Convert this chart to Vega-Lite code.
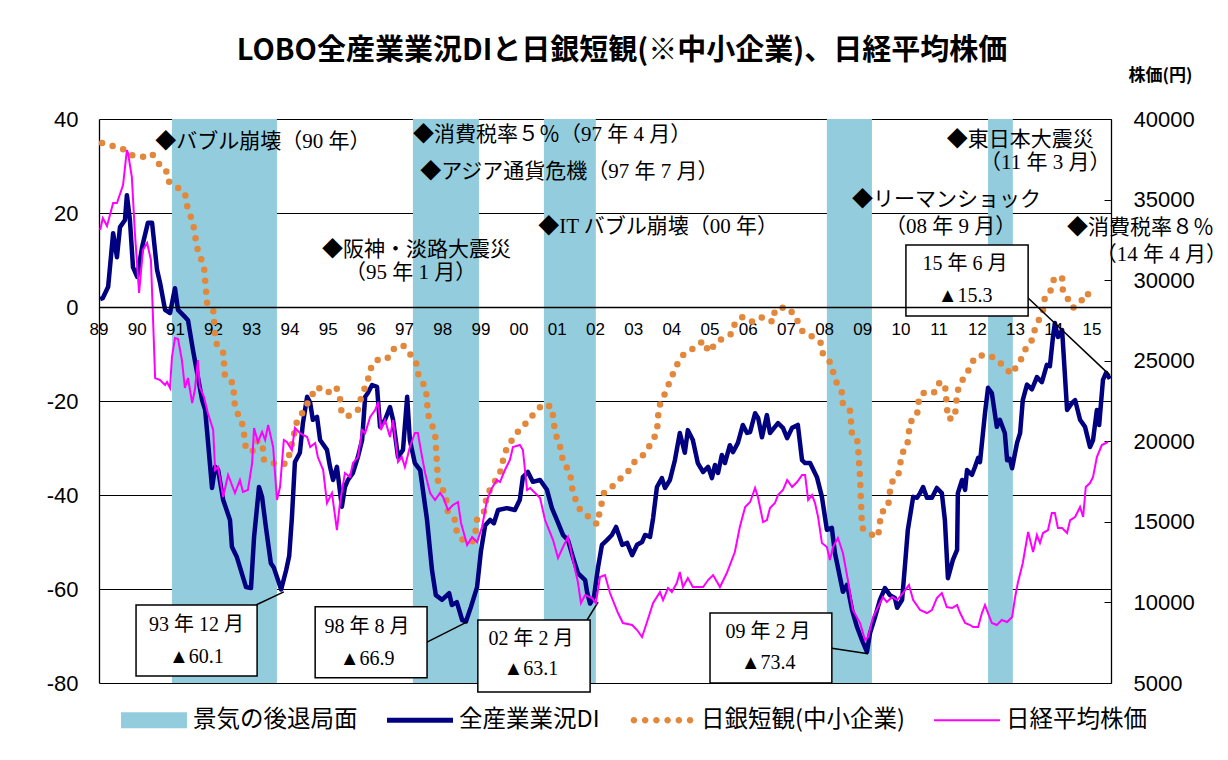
{
"$schema": "https://vega.github.io/schema/vega-lite/v6.json",
"width": 1012, "height": 564,
"padding": {"left": 99, "top": 119, "right": 117, "bottom": 77},
"autosize": {"type": "none"},
"background": "white",
"title": {"text": "LOBO全産業業況DIと日銀短観(※中小企業)、日経平均株価", "font": "Noto Sans CJK JP", "fontSize": 29, "fontWeight": "bold", "color": "#000", "anchor": "middle", "frame": "group", "dx": 17, "offset": 0},
"config": {"view": {"stroke": null}, "axis": {"labelFont": "Liberation Sans", "labelColor": "#000"}},
"datasets": {
"years": [{"year":1989,"label":"89"},{"year":1990,"label":"90"},{"year":1991,"label":"91"},{"year":1992,"label":"92"},{"year":1993,"label":"93"},{"year":1994,"label":"94"},{"year":1995,"label":"95"},{"year":1996,"label":"96"},{"year":1997,"label":"97"},{"year":1998,"label":"98"},{"year":1999,"label":"99"},{"year":2000,"label":"00"},{"year":2001,"label":"01"},{"year":2002,"label":"02"},{"year":2003,"label":"03"},{"year":2004,"label":"04"},{"year":2005,"label":"05"},{"year":2006,"label":"06"},{"year":2007,"label":"07"},{"year":2008,"label":"08"},{"year":2009,"label":"09"},{"year":2010,"label":"10"},{"year":2011,"label":"11"},{"year":2012,"label":"12"},{"year":2013,"label":"13"},{"year":2014,"label":"14"},{"year":2015,"label":"15"}],
"bands": [{"start":1990.91,"end":1993.66},{"start":1997.22,"end":1998.95},{"start":2000.65,"end":2002.01},{"start":2008.06,"end":2009.24},{"start":2012.28,"end":2012.93}],
"di": [
{"t":1989.03,"v":1.7},{"t":1989.10,"v":1.9},{"t":1989.24,"v":4.3},{"t":1989.37,"v":15.7},{"t":1989.47,"v":10.6},{"t":1989.55,"v":17.0},{"t":1989.68,"v":18.5},{"t":1989.73,"v":23.8},{"t":1989.81,"v":18.5},{"t":1989.89,"v":8.5},{"t":1990.00,"v":6.4},{"t":1990.13,"v":12.8},{"t":1990.28,"v":17.9},{"t":1990.39,"v":17.9},{"t":1990.52,"v":7.9},{"t":1990.60,"v":5.1},{"t":1990.73,"v":-0.6},{"t":1990.86,"v":-1.3},{"t":1990.99,"v":4.0},{"t":1991.07,"v":-0.6},{"t":1991.25,"v":-2.1},{"t":1991.33,"v":-2.8},{"t":1991.46,"v":-9.1},{"t":1991.57,"v":-14.0},{"t":1991.70,"v":-19.8},{"t":1991.78,"v":-21.9},{"t":1991.85,"v":-28.3},{"t":1991.96,"v":-38.5},{"t":1992.04,"v":-34.0},{"t":1992.12,"v":-34.7},{"t":1992.25,"v":-41.0},{"t":1992.43,"v":-45.3},{"t":1992.48,"v":-51.0},{"t":1992.61,"v":-53.2},{"t":1992.85,"v":-59.6},{"t":1992.98,"v":-59.8},{"t":1993.06,"v":-49.0},{"t":1993.19,"v":-38.3},{"t":1993.27,"v":-40.4},{"t":1993.37,"v":-46.8},{"t":1993.50,"v":-54.5},{"t":1993.58,"v":-55.5},{"t":1993.77,"v":-60.1},{"t":1993.90,"v":-56.0},{"t":1993.98,"v":-53.0},{"t":1994.05,"v":-45.0},{"t":1994.13,"v":-33.0},{"t":1994.26,"v":-31.0},{"t":1994.34,"v":-24.7},{"t":1994.45,"v":-19.1},{"t":1994.53,"v":-20.4},{"t":1994.60,"v":-24.0},{"t":1994.71,"v":-23.4},{"t":1994.79,"v":-28.3},{"t":1994.97,"v":-30.4},{"t":1995.05,"v":-34.0},{"t":1995.13,"v":-36.8},{"t":1995.23,"v":-34.0},{"t":1995.36,"v":-42.5},{"t":1995.44,"v":-38.3},{"t":1995.52,"v":-36.8},{"t":1995.65,"v":-35.3},{"t":1995.78,"v":-31.9},{"t":1995.89,"v":-28.3},{"t":1995.97,"v":-19.1},{"t":1996.04,"v":-18.3},{"t":1996.15,"v":-16.6},{"t":1996.28,"v":-17.0},{"t":1996.36,"v":-25.5},{"t":1996.49,"v":-24.0},{"t":1996.62,"v":-21.3},{"t":1996.70,"v":-24.0},{"t":1996.83,"v":-31.9},{"t":1996.96,"v":-30.4},{"t":1997.07,"v":-19.1},{"t":1997.14,"v":-28.3},{"t":1997.27,"v":-33.2},{"t":1997.41,"v":-34.7},{"t":1997.59,"v":-45.3},{"t":1997.72,"v":-56.0},{"t":1997.82,"v":-61.3},{"t":1997.98,"v":-62.3},{"t":1998.17,"v":-60.9},{"t":1998.24,"v":-63.4},{"t":1998.37,"v":-62.8},{"t":1998.51,"v":-66.6},{"t":1998.61,"v":-66.9},{"t":1998.74,"v":-63.8},{"t":1998.90,"v":-59.6},{"t":1999.00,"v":-52.0},{"t":1999.11,"v":-46.5},{"t":1999.24,"v":-45.3},{"t":1999.34,"v":-46.0},{"t":1999.45,"v":-43.2},{"t":1999.68,"v":-42.8},{"t":1999.89,"v":-43.2},{"t":2000.02,"v":-41.0},{"t":2000.10,"v":-36.2},{"t":2000.23,"v":-35.1},{"t":2000.36,"v":-37.2},{"t":2000.55,"v":-36.8},{"t":2000.73,"v":-38.9},{"t":2000.86,"v":-42.8},{"t":2000.99,"v":-45.3},{"t":2001.15,"v":-48.5},{"t":2001.28,"v":-49.6},{"t":2001.41,"v":-53.2},{"t":2001.54,"v":-56.6},{"t":2001.73,"v":-58.1},{"t":2001.78,"v":-60.6},{"t":2001.86,"v":-63.1},{"t":2001.96,"v":-61.7},{"t":2002.07,"v":-55.3},{"t":2002.17,"v":-50.6},{"t":2002.30,"v":-49.6},{"t":2002.43,"v":-48.5},{"t":2002.54,"v":-46.8},{"t":2002.70,"v":-50.6},{"t":2002.83,"v":-50.2},{"t":2002.96,"v":-52.8},{"t":2003.09,"v":-50.6},{"t":2003.22,"v":-50.0},{"t":2003.30,"v":-48.5},{"t":2003.43,"v":-48.9},{"t":2003.51,"v":-44.9},{"t":2003.61,"v":-38.3},{"t":2003.74,"v":-36.4},{"t":2003.82,"v":-38.5},{"t":2003.95,"v":-36.8},{"t":2004.08,"v":-32.6},{"t":2004.21,"v":-26.8},{"t":2004.34,"v":-31.0},{"t":2004.42,"v":-26.2},{"t":2004.55,"v":-28.3},{"t":2004.68,"v":-33.2},{"t":2004.82,"v":-35.1},{"t":2004.95,"v":-34.0},{"t":2005.05,"v":-36.4},{"t":2005.13,"v":-33.6},{"t":2005.21,"v":-35.3},{"t":2005.31,"v":-31.5},{"t":2005.39,"v":-33.2},{"t":2005.52,"v":-29.4},{"t":2005.60,"v":-30.9},{"t":2005.73,"v":-28.9},{"t":2005.86,"v":-25.1},{"t":2005.97,"v":-26.8},{"t":2006.05,"v":-26.6},{"t":2006.18,"v":-22.6},{"t":2006.26,"v":-23.6},{"t":2006.36,"v":-27.7},{"t":2006.49,"v":-23.0},{"t":2006.57,"v":-26.8},{"t":2006.70,"v":-25.5},{"t":2006.78,"v":-24.7},{"t":2006.91,"v":-25.7},{"t":2007.02,"v":-27.9},{"t":2007.15,"v":-25.7},{"t":2007.30,"v":-25.1},{"t":2007.41,"v":-32.6},{"t":2007.49,"v":-33.2},{"t":2007.62,"v":-33.2},{"t":2007.80,"v":-36.2},{"t":2007.93,"v":-40.4},{"t":2008.06,"v":-47.4},{"t":2008.19,"v":-47.0},{"t":2008.27,"v":-52.3},{"t":2008.40,"v":-57.4},{"t":2008.48,"v":-60.6},{"t":2008.59,"v":-59.1},{"t":2008.72,"v":-64.5},{"t":2008.85,"v":-68.1},{"t":2008.98,"v":-70.9},{"t":2009.11,"v":-73.4},{"t":2009.19,"v":-69.4},{"t":2009.32,"v":-66.0},{"t":2009.45,"v":-62.3},{"t":2009.58,"v":-59.8},{"t":2009.71,"v":-61.3},{"t":2009.84,"v":-61.9},{"t":2009.90,"v":-64.0},{"t":2010.03,"v":-62.3},{"t":2010.11,"v":-54.5},{"t":2010.18,"v":-47.4},{"t":2010.32,"v":-40.4},{"t":2010.42,"v":-40.6},{"t":2010.50,"v":-39.6},{"t":2010.58,"v":-38.3},{"t":2010.68,"v":-40.6},{"t":2010.81,"v":-40.6},{"t":2010.94,"v":-38.5},{"t":2011.07,"v":-39.6},{"t":2011.15,"v":-45.3},{"t":2011.23,"v":-57.7},{"t":2011.36,"v":-53.8},{"t":2011.47,"v":-51.7},{"t":2011.49,"v":-39.6},{"t":2011.60,"v":-36.8},{"t":2011.68,"v":-38.9},{"t":2011.73,"v":-34.7},{"t":2011.86,"v":-35.7},{"t":2011.94,"v":-34.0},{"t":2012.02,"v":-32.1},{"t":2012.07,"v":-33.0},{"t":2012.20,"v":-22.6},{"t":2012.28,"v":-17.2},{"t":2012.38,"v":-18.3},{"t":2012.51,"v":-25.5},{"t":2012.59,"v":-24.0},{"t":2012.72,"v":-26.8},{"t":2012.78,"v":-32.6},{"t":2012.85,"v":-32.3},{"t":2012.91,"v":-34.3},{"t":2013.04,"v":-28.9},{"t":2013.12,"v":-26.8},{"t":2013.19,"v":-19.8},{"t":2013.30,"v":-16.5},{"t":2013.43,"v":-17.5},{"t":2013.56,"v":-14.9},{"t":2013.69,"v":-16.0},{"t":2013.82,"v":-12.3},{"t":2013.90,"v":-12.6},{"t":2013.98,"v":-6.4},{"t":2014.03,"v":-3.4},{"t":2014.11,"v":-6.4},{"t":2014.22,"v":-4.9},{"t":2014.35,"v":-21.9},{"t":2014.48,"v":-20.4},{"t":2014.56,"v":-19.8},{"t":2014.69,"v":-24.0},{"t":2014.82,"v":-25.5},{"t":2014.95,"v":-29.8},{"t":2015.03,"v":-28.3},{"t":2015.13,"v":-21.9},{"t":2015.19,"v":-25.1},{"t":2015.29,"v":-15.5},{"t":2015.37,"v":-14.0},{"t":2015.47,"v":-15.3}],
"tankan": [
{"t":1989.08,"v":34.9},{"t":1989.63,"v":33.6},{"t":1989.86,"v":32.3},{"t":1990.13,"v":31.9},{"t":1990.39,"v":32.6},{"t":1990.54,"v":30.6},{"t":1990.75,"v":29.4},{"t":1990.81,"v":26.8},{"t":1991.04,"v":25.5},{"t":1991.25,"v":24.3},{"t":1991.30,"v":21.7},{"t":1991.46,"v":17.9},{"t":1991.57,"v":12.6},{"t":1991.75,"v":8.5},{"t":1991.83,"v":0.9},{"t":1991.99,"v":-0.4},{"t":1992.04,"v":-6.0},{"t":1992.09,"v":-8.1},{"t":1992.25,"v":-9.6},{"t":1992.30,"v":-14.9},{"t":1992.51,"v":-16.2},{"t":1992.56,"v":-21.3},{"t":1992.77,"v":-25.3},{"t":1992.85,"v":-30.4},{"t":1993.03,"v":-30.6},{"t":1993.16,"v":-28.3},{"t":1993.29,"v":-30.0},{"t":1993.32,"v":-32.6},{"t":1993.56,"v":-33.2},{"t":1993.74,"v":-33.6},{"t":1993.92,"v":-33.2},{"t":1994.00,"v":-30.9},{"t":1994.18,"v":-24.5},{"t":1994.32,"v":-22.6},{"t":1994.58,"v":-18.7},{"t":1994.71,"v":-17.0},{"t":1994.97,"v":-18.3},{"t":1995.21,"v":-17.0},{"t":1995.31,"v":-19.4},{"t":1995.34,"v":-21.9},{"t":1995.49,"v":-23.4},{"t":1995.78,"v":-21.9},{"t":1995.86,"v":-19.4},{"t":1996.04,"v":-15.5},{"t":1996.12,"v":-13.0},{"t":1996.25,"v":-11.3},{"t":1996.54,"v":-11.1},{"t":1996.67,"v":-9.1},{"t":1996.96,"v":-8.1},{"t":1997.12,"v":-9.8},{"t":1997.30,"v":-11.5},{"t":1997.33,"v":-13.8},{"t":1997.56,"v":-17.4},{"t":1997.62,"v":-23.0},{"t":1997.80,"v":-26.8},{"t":1997.88,"v":-37.4},{"t":1998.09,"v":-40.0},{"t":1998.11,"v":-43.2},{"t":1998.32,"v":-45.3},{"t":1998.37,"v":-47.9},{"t":1998.53,"v":-49.6},{"t":1998.77,"v":-50.0},{"t":1998.87,"v":-47.4},{"t":1998.90,"v":-45.1},{"t":1999.08,"v":-43.6},{"t":1999.16,"v":-40.0},{"t":1999.50,"v":-35.3},{"t":1999.63,"v":-30.9},{"t":1999.89,"v":-27.2},{"t":2000.10,"v":-25.5},{"t":2000.47,"v":-21.9},{"t":2000.65,"v":-20.6},{"t":2000.86,"v":-21.3},{"t":2000.94,"v":-26.6},{"t":2001.10,"v":-30.4},{"t":2001.15,"v":-33.0},{"t":2001.33,"v":-35.1},{"t":2001.41,"v":-39.6},{"t":2001.60,"v":-43.2},{"t":2001.86,"v":-44.9},{"t":2002.04,"v":-46.2},{"t":2002.17,"v":-41.5},{"t":2002.22,"v":-39.6},{"t":2002.43,"v":-38.3},{"t":2002.67,"v":-36.4},{"t":2002.85,"v":-35.1},{"t":2002.98,"v":-33.2},{"t":2003.19,"v":-32.1},{"t":2003.35,"v":-30.4},{"t":2003.48,"v":-28.7},{"t":2003.61,"v":-26.6},{"t":2003.66,"v":-21.3},{"t":2003.77,"v":-19.4},{"t":2004.08,"v":-13.2},{"t":2004.24,"v":-10.6},{"t":2004.40,"v":-9.6},{"t":2004.63,"v":-8.5},{"t":2004.82,"v":-7.2},{"t":2004.97,"v":-9.6},{"t":2005.18,"v":-7.4},{"t":2005.60,"v":-5.5},{"t":2005.65,"v":-3.4},{"t":2005.86,"v":-2.1},{"t":2006.13,"v":-3.2},{"t":2006.39,"v":-2.1},{"t":2006.65,"v":-3.2},{"t":2006.70,"v":-0.6},{"t":2006.99,"v":0.0},{"t":2007.20,"v":-1.5},{"t":2007.43,"v":-5.3},{"t":2007.70,"v":-6.4},{"t":2007.91,"v":-7.7},{"t":2007.96,"v":-10.2},{"t":2008.14,"v":-11.7},{"t":2008.32,"v":-16.2},{"t":2008.46,"v":-18.3},{"t":2008.48,"v":-20.9},{"t":2008.67,"v":-22.1},{"t":2008.72,"v":-27.4},{"t":2008.87,"v":-28.7},{"t":2008.93,"v":-36.6},{"t":2008.98,"v":-47.0},{"t":2009.19,"v":-48.3},{"t":2009.40,"v":-48.9},{"t":2009.48,"v":-43.8},{"t":2009.66,"v":-42.6},{"t":2009.74,"v":-37.4},{"t":2009.92,"v":-36.2},{"t":2010.03,"v":-31.1},{"t":2010.16,"v":-29.8},{"t":2010.24,"v":-24.5},{"t":2010.42,"v":-23.2},{"t":2010.45,"v":-20.4},{"t":2010.55,"v":-18.3},{"t":2010.86,"v":-18.3},{"t":2010.97,"v":-16.2},{"t":2011.15,"v":-16.2},{"t":2011.23,"v":-23.8},{"t":2011.41,"v":-23.6},{"t":2011.47,"v":-18.3},{"t":2011.55,"v":-16.2},{"t":2011.73,"v":-14.3},{"t":2011.83,"v":-12.1},{"t":2011.99,"v":-10.4},{"t":2012.28,"v":-10.2},{"t":2012.54,"v":-11.3},{"t":2012.72,"v":-13.0},{"t":2012.91,"v":-14.3},{"t":2013.06,"v":-12.1},{"t":2013.19,"v":-10.6},{"t":2013.30,"v":-8.1},{"t":2013.46,"v":-6.8},{"t":2013.51,"v":-4.5},{"t":2013.61,"v":-2.8},{"t":2013.74,"v":-0.2},{"t":2013.77,"v":2.3},{"t":2013.95,"v":3.8},{"t":2014.01,"v":6.2},{"t":2014.22,"v":6.2},{"t":2014.24,"v":3.4},{"t":2014.37,"v":1.7},{"t":2014.50,"v":-0.2},{"t":2014.71,"v":1.1},{"t":2014.84,"v":3.0},{"t":2015.11,"v":1.7}],
"nikkei": [
{"t":1989.03,"p":33111},{"t":1989.10,"p":33856},{"t":1989.21,"p":33360},{"t":1989.37,"p":34787},{"t":1989.47,"p":34787},{"t":1989.63,"p":35904},{"t":1989.73,"p":38076},{"t":1989.76,"p":37890},{"t":1989.86,"p":36400},{"t":1989.94,"p":32925},{"t":1990.05,"p":29201},{"t":1990.15,"p":31870},{"t":1990.26,"p":32305},{"t":1990.36,"p":31250},{"t":1990.47,"p":23926},{"t":1990.60,"p":23802},{"t":1990.73,"p":23492},{"t":1990.78,"p":23678},{"t":1990.86,"p":23306},{"t":1990.91,"p":25230},{"t":1990.99,"p":26409},{"t":1991.07,"p":26347},{"t":1991.17,"p":25044},{"t":1991.25,"p":23306},{"t":1991.33,"p":23926},{"t":1991.44,"p":22375},{"t":1991.51,"p":23182},{"t":1991.59,"p":25044},{"t":1991.64,"p":23368},{"t":1991.75,"p":22747},{"t":1991.85,"p":21754},{"t":1991.99,"p":20699},{"t":1992.04,"p":18217},{"t":1992.12,"p":18403},{"t":1992.25,"p":16541},{"t":1992.38,"p":17907},{"t":1992.56,"p":16790},{"t":1992.69,"p":17596},{"t":1992.77,"p":16852},{"t":1992.90,"p":16976},{"t":1993.01,"p":18651},{"t":1993.06,"p":20824},{"t":1993.16,"p":19955},{"t":1993.27,"p":20576},{"t":1993.35,"p":20079},{"t":1993.43,"p":21010},{"t":1993.56,"p":19644},{"t":1993.66,"p":16355},{"t":1993.74,"p":17162},{"t":1993.84,"p":20079},{"t":1993.92,"p":19955},{"t":1994.05,"p":19458},{"t":1994.13,"p":20824},{"t":1994.26,"p":20513},{"t":1994.45,"p":20265},{"t":1994.53,"p":19644},{"t":1994.66,"p":19893},{"t":1994.73,"p":19024},{"t":1994.87,"p":18217},{"t":1994.97,"p":16169},{"t":1995.10,"p":16790},{"t":1995.23,"p":14493},{"t":1995.31,"p":16169},{"t":1995.44,"p":18031},{"t":1995.57,"p":17782},{"t":1995.65,"p":18651},{"t":1995.78,"p":19024},{"t":1995.89,"p":20699},{"t":1995.97,"p":20513},{"t":1996.10,"p":21506},{"t":1996.23,"p":21941},{"t":1996.31,"p":22437},{"t":1996.38,"p":20699},{"t":1996.49,"p":21320},{"t":1996.62,"p":20265},{"t":1996.70,"p":21320},{"t":1996.83,"p":18713},{"t":1996.93,"p":19024},{"t":1997.01,"p":18403},{"t":1997.14,"p":19644},{"t":1997.27,"p":20513},{"t":1997.35,"p":20513},{"t":1997.46,"p":19024},{"t":1997.54,"p":18031},{"t":1997.67,"p":16790},{"t":1997.80,"p":16355},{"t":1997.93,"p":16790},{"t":1998.01,"p":16541},{"t":1998.14,"p":15735},{"t":1998.27,"p":16045},{"t":1998.40,"p":16231},{"t":1998.48,"p":14928},{"t":1998.64,"p":13562},{"t":1998.77,"p":14059},{"t":1998.90,"p":13749},{"t":1999.03,"p":14680},{"t":1999.16,"p":16355},{"t":1999.29,"p":17100},{"t":1999.42,"p":17596},{"t":1999.50,"p":17472},{"t":1999.63,"p":18217},{"t":1999.76,"p":18838},{"t":1999.84,"p":19644},{"t":2000.02,"p":19768},{"t":2000.10,"p":19458},{"t":2000.21,"p":16976},{"t":2000.29,"p":17100},{"t":2000.55,"p":16479},{"t":2000.68,"p":15114},{"t":2000.89,"p":13873},{"t":2001.02,"p":12756},{"t":2001.15,"p":13438},{"t":2001.28,"p":14059},{"t":2001.41,"p":12631},{"t":2001.54,"p":11266},{"t":2001.62,"p":9963},{"t":2001.73,"p":10459},{"t":2001.91,"p":10273},{"t":2002.01,"p":9963},{"t":2002.12,"p":11576},{"t":2002.25,"p":11700},{"t":2002.38,"p":10584},{"t":2002.59,"p":9342},{"t":2002.72,"p":8722},{"t":2002.96,"p":8598},{"t":2003.09,"p":8287},{"t":2003.22,"p":7853},{"t":2003.35,"p":8784},{"t":2003.51,"p":9963},{"t":2003.69,"p":10646},{"t":2003.77,"p":10150},{"t":2003.90,"p":10894},{"t":2004.00,"p":10646},{"t":2004.13,"p":11204},{"t":2004.21,"p":11887},{"t":2004.29,"p":10956},{"t":2004.42,"p":11514},{"t":2004.55,"p":10956},{"t":2004.82,"p":10956},{"t":2004.95,"p":11390},{"t":2005.08,"p":11700},{"t":2005.26,"p":10956},{"t":2005.44,"p":11824},{"t":2005.65,"p":13128},{"t":2005.78,"p":14680},{"t":2005.92,"p":15921},{"t":2006.05,"p":16231},{"t":2006.18,"p":17100},{"t":2006.26,"p":16479},{"t":2006.39,"p":14990},{"t":2006.49,"p":15114},{"t":2006.57,"p":15859},{"t":2006.70,"p":16169},{"t":2006.78,"p":16665},{"t":2006.91,"p":16976},{"t":2007.02,"p":17596},{"t":2007.15,"p":17162},{"t":2007.28,"p":17472},{"t":2007.41,"p":17907},{"t":2007.49,"p":17907},{"t":2007.57,"p":16355},{"t":2007.67,"p":16665},{"t":2007.75,"p":16169},{"t":2007.83,"p":15300},{"t":2007.93,"p":13687},{"t":2008.06,"p":13438},{"t":2008.14,"p":12631},{"t":2008.22,"p":13438},{"t":2008.35,"p":13997},{"t":2008.48,"p":13066},{"t":2008.61,"p":11391},{"t":2008.74,"p":9529},{"t":2008.93,"p":8722},{"t":2009.06,"p":7667},{"t":2009.14,"p":7853},{"t":2009.27,"p":9094},{"t":2009.40,"p":9715},{"t":2009.53,"p":10335},{"t":2009.63,"p":10025},{"t":2009.77,"p":10335},{"t":2009.90,"p":10150},{"t":2010.05,"p":10584},{"t":2010.21,"p":11080},{"t":2010.32,"p":10150},{"t":2010.50,"p":9529},{"t":2010.68,"p":9342},{"t":2010.81,"p":9529},{"t":2010.94,"p":10273},{"t":2011.07,"p":10584},{"t":2011.20,"p":9715},{"t":2011.34,"p":9653},{"t":2011.47,"p":9839},{"t":2011.55,"p":9342},{"t":2011.68,"p":8722},{"t":2011.81,"p":8598},{"t":2011.89,"p":8473},{"t":2012.02,"p":8473},{"t":2012.12,"p":9342},{"t":2012.20,"p":9839},{"t":2012.28,"p":9342},{"t":2012.38,"p":8722},{"t":2012.51,"p":8598},{"t":2012.64,"p":8908},{"t":2012.78,"p":8784},{"t":2012.91,"p":9094},{"t":2012.99,"p":10335},{"t":2013.06,"p":11204},{"t":2013.19,"p":12445},{"t":2013.33,"p":14369},{"t":2013.46,"p":13128},{"t":2013.56,"p":14183},{"t":2013.64,"p":13687},{"t":2013.72,"p":14307},{"t":2013.85,"p":14493},{"t":2013.95,"p":15548},{"t":2014.03,"p":15548},{"t":2014.11,"p":14617},{"t":2014.22,"p":14617},{"t":2014.35,"p":14307},{"t":2014.43,"p":15114},{"t":2014.56,"p":15300},{"t":2014.69,"p":15921},{"t":2014.77,"p":15300},{"t":2014.84,"p":17162},{"t":2014.95,"p":17410},{"t":2015.03,"p":17782},{"t":2015.13,"p":19024},{"t":2015.26,"p":19768},{"t":2015.42,"p":19955}],
"boxes": [{"t1":1989.97,"t2":1993.14,"v1":-63.4,"v2":-78.5},{"t1":1994.66,"t2":1997.59,"v1":-63.8,"v2":-78.9},{"t1":1998.92,"t2":2001.86,"v1":-66.6,"v2":-81.9},{"t1":2005.00,"t2":2008.19,"v1":-65.1,"v2":-80.0},{"t1":2010.13,"t2":2013.33,"v1":13.2,"v2":-1.9}],
"leaders": [{"t1":1993.11,"v1":-63.4,"t2":1993.84,"v2":-60.6},{"t1":1997.59,"v1":-71.3,"t2":1998.64,"v2":-67.0},{"t1":2001.78,"v1":-66.6,"t2":2002.07,"v2":-62.8},{"t1":2008.19,"v1":-72.6,"t2":2009.14,"v2":-73.8},{"t1":2013.33,"v1":1.9,"t2":2015.47,"v2":-14.5}],
"boxtext": [{"t":1991.55,"v":-67.7,"label":"93 年 12 月"},{"t":1991.55,"v":-74.5,"label":"▲60.1"},{"t":1996.02,"v":-68.1,"label":"98 年 8 月"},{"t":1996.02,"v":-74.9,"label":"▲66.9"},{"t":2000.31,"v":-70.6,"label":"02 年 2 月"},{"t":2000.31,"v":-77.0,"label":"▲63.1"},{"t":2006.52,"v":-69.1,"label":"09 年 2 月"},{"t":2006.52,"v":-75.7,"label":"▲73.4"},{"t":2011.68,"v":9.1,"label":"15 年 6 月"},{"t":2011.68,"v":2.3,"label":"▲15.3"}],
"events": [{"t":1990.47,"v":35.1,"label":"◆バブル崩壊（90 年）"},{"t":1997.22,"v":36.6,"label":"◆消費税率５％（97 年 4 月）"},{"t":1997.41,"v":28.7,"label":"◆アジア通貨危機（97 年 7 月）"},{"t":2000.50,"v":17.0,"label":"◆IT バブル崩壊（00 年）"},{"t":1994.84,"v":12.1,"label":"◆阪神・淡路大震災"},{"t":1995.44,"v":7.2,"label":"（95 年 1 月）"},{"t":2011.20,"v":35.5,"label":"◆東日本大震災"},{"t":2012.07,"v":30.6,"label":"（11 年 3 月）"},{"t":2008.72,"v":22.8,"label":"◆リーマンショック"},{"t":2009.58,"v":17.0,"label":"（08 年 9 月）"},{"t":2014.35,"v":16.8,"label":"◆消費税率８％"},{"t":2015.10,"v":11.1,"label":"（14 年 4 月）"}]
},
"layer": [
{"layer": [
{"data": {"name": "bands"}, "mark": {"type": "rect"},
 "encoding": {
  "x": {"field": "start", "type": "quantitative", "scale": {"domain": [1989, 2015.5], "nice": false, "zero": false},
        "axis": {"orient": "bottom", "offset": -376, "domain": true, "domainColor": "#000", "domainWidth": 1.5, "ticks": false, "grid": false, "labels": false, "title": null, "zindex": 1}},
  "x2": {"field": "end"},
  "y": {"datum": 40, "type": "quantitative", "scale": {"domain": [-80, 40], "nice": false, "zero": false},
        "axis": {"values": [-80,-60,-40,-20,0,20,40], "labelExpr": "'' + datum.value", "grid": true, "gridColor": "#000", "gridWidth": 1, "gridOpacity": 1, "ticks": false, "domain": true, "domainColor": "#000", "domainWidth": 1.3, "labelPadding": 21, "labelFontSize": 22, "title": null}},
  "y2": {"datum": -80},
  "color": {"datum": "景気の後退局面", "type": "nominal",
    "scale": {"domain": ["景気の後退局面", "全産業業況DI", "日銀短観(中小企業)", "日経平均株価"], "range": ["#93CDDD", "#000080", "#E2883C", "#FF00FF"]},
    "legend": {"orient": "none", "legendX": 22, "legendY": 568, "direction": "horizontal", "title": null,
      "symbolType": "square", "symbolSize": 4356, "symbolStrokeWidth": 0, "labelFont": "Noto Sans CJK JP", "labelFontSize": 23.5, "labelColor": "#000", "labelOffset": 6, "labelLimit": 400, "columnPadding": 29, "padding": 0,
      "encode": {"symbols": {"update": {
        "fill": {"scale": "color", "field": "value"},
        "fillOpacity": {"value": 1},
        "stroke": {"value": "transparent"},
        "strokeWidth": {"value": 0},
        "opacity": {"value": 1},
        "shape": {"signal": "datum.value === '景気の後退局面' ? 'M-1,-0.24H1V0.24H-1Z' : datum.value === '全産業業況DI' ? 'M-1,-0.075H1V0.075H-1Z' : datum.value === '日銀短観(中小企業)' ? 'M-0.95,0a0.1,0.1 0 1,0 0.2,0a0.1,0.1 0 1,0 -0.2,0M-0.61,0a0.1,0.1 0 1,0 0.2,0a0.1,0.1 0 1,0 -0.2,0M-0.27,0a0.1,0.1 0 1,0 0.2,0a0.1,0.1 0 1,0 -0.2,0M0.07,0a0.1,0.1 0 1,0 0.2,0a0.1,0.1 0 1,0 -0.2,0M0.41,0a0.1,0.1 0 1,0 0.2,0a0.1,0.1 0 1,0 -0.2,0M0.75,0a0.1,0.1 0 1,0 0.2,0a0.1,0.1 0 1,0 -0.2,0' : 'M-1,-0.032H1V0.032H-1Z'"}}}}}}
 }},
{"data": {"name": "years"}, "mark": {"type": "text", "font": "Liberation Sans", "fontSize": 17, "color": "#000", "align": "center", "baseline": "middle"},
 "encoding": {
  "x": {"field": "year", "type": "quantitative", "scale": {"domain": [1989, 2015.5], "nice": false, "zero": false}},
  "y": {"datum": -4.9, "type": "quantitative", "scale": {"domain": [-80, 40], "nice": false, "zero": false}},
  "text": {"field": "label"}}},
{"data": {"name": "di"}, "mark": {"type": "line", "strokeWidth": 4.5, "strokeJoin": "round"},
 "encoding": {
  "x": {"field": "t", "type": "quantitative", "scale": {"domain": [1989, 2015.5], "nice": false, "zero": false}},
  "y": {"field": "v", "type": "quantitative", "scale": {"domain": [-80, 40], "nice": false, "zero": false}},
  "color": {"datum": "全産業業況DI", "type": "nominal"}}},
{"data": {"name": "tankan"}, "mark": {"type": "line", "strokeWidth": 6.5, "strokeDash": [0, 11], "strokeCap": "round"},
 "encoding": {
  "x": {"field": "t", "type": "quantitative", "scale": {"domain": [1989, 2015.5], "nice": false, "zero": false}},
  "y": {"field": "v", "type": "quantitative", "scale": {"domain": [-80, 40], "nice": false, "zero": false}},
  "color": {"datum": "日銀短観(中小企業)", "type": "nominal"}}},
{"data": {"name": "leaders"}, "mark": {"type": "rule", "color": "#000", "strokeWidth": 1.5},
 "encoding": {
  "x": {"field": "t1", "type": "quantitative", "scale": {"domain": [1989, 2015.5], "nice": false, "zero": false}},
  "x2": {"field": "t2"},
  "y": {"field": "v1", "type": "quantitative", "scale": {"domain": [-80, 40], "nice": false, "zero": false}},
  "y2": {"field": "v2"}}},
{"data": {"name": "boxes"}, "mark": {"type": "rect", "fill": "#fff", "stroke": "#000", "strokeWidth": 1.5},
 "encoding": {
  "x": {"field": "t1", "type": "quantitative", "scale": {"domain": [1989, 2015.5], "nice": false, "zero": false}},
  "x2": {"field": "t2"},
  "y": {"field": "v1", "type": "quantitative", "scale": {"domain": [-80, 40], "nice": false, "zero": false}},
  "y2": {"field": "v2"}}},
{"data": {"name": "boxtext"}, "mark": {"type": "text", "font": "Liberation Serif, Noto Sans CJK JP", "fontSize": 20, "color": "#000", "align": "center", "baseline": "middle"},
 "encoding": {
  "x": {"field": "t", "type": "quantitative", "scale": {"domain": [1989, 2015.5], "nice": false, "zero": false}},
  "y": {"field": "v", "type": "quantitative", "scale": {"domain": [-80, 40], "nice": false, "zero": false}},
  "text": {"field": "label"}}},
{"data": {"name": "events"}, "mark": {"type": "text", "font": "Liberation Serif, Noto Sans CJK JP", "fontSize": 21, "color": "#000", "align": "left", "baseline": "middle"},
 "encoding": {
  "x": {"field": "t", "type": "quantitative", "scale": {"domain": [1989, 2015.5], "nice": false, "zero": false}},
  "y": {"field": "v", "type": "quantitative", "scale": {"domain": [-80, 40], "nice": false, "zero": false}},
  "text": {"field": "label"}}}
]},
{"data": {"name": "nikkei"}, "mark": {"type": "line", "strokeWidth": 2},
 "encoding": {
  "x": {"field": "t", "type": "quantitative", "scale": {"domain": [1989, 2015.5], "nice": false, "zero": false}},
  "y": {"field": "p", "type": "quantitative", "scale": {"domain": [5000, 40000], "nice": false, "zero": false},
        "axis": {"orient": "right", "values": [5000,10000,15000,20000,25000,30000,35000,40000], "format": "d", "grid": false, "ticks": true, "tickSize": -7, "tickColor": "#000", "domain": true, "domainColor": "#000", "domainWidth": 1.3, "labelPadding": 29, "labelFontSize": 22, "labelColor": "#000",
                 "title": "株価(円)", "titleAngle": 0, "titleX": 49, "titleY": -44, "titleAlign": "center", "titleBaseline": "middle", "titleFont": "Noto Sans CJK JP", "titleFontSize": 17, "titleFontWeight": "bold", "titleColor": "#000"}},
  "color": {"datum": "日経平均株価", "type": "nominal"}}}
],
"resolve": {"scale": {"y": "independent"}}
}
